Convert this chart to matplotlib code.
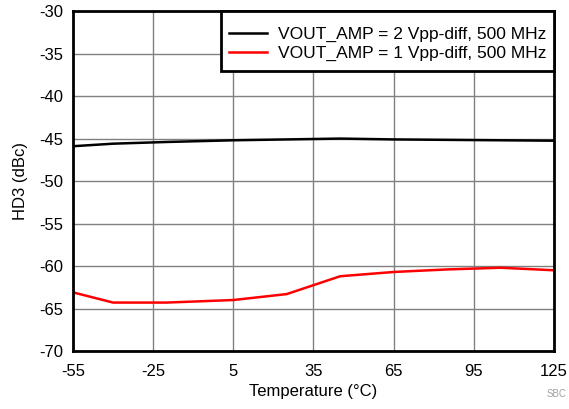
import matplotlib
matplotlib.use('Agg')
import matplotlib.pyplot as plt
from matplotlib.patches import Rectangle

plt.rcParams['font.family'] = ['Liberation Sans', 'DejaVu Sans']
plt.rcParams['axes.unicode_minus'] = False

temp = [-55, -40, -20, 5, 25, 45, 65, 85, 105, 125]
hd3_2vpp = [-45.9, -45.6, -45.4, -45.2, -45.1, -45.0, -45.1, -45.15, -45.2, -45.25]
hd3_1vpp = [-63.1, -64.3, -64.3, -64.0, -63.3, -61.2, -60.7, -60.4, -60.2, -60.5]

xticks = [-55, -25, 5, 35, 65, 95, 125]
yticks = list(range(-70, -29, 5))

fig = plt.figure(figsize=(5.69, 4.09), dpi=100)
ax = fig.add_axes([0.1283, 0.1418, 0.8453, 0.831])

ax.plot(temp, hd3_2vpp, color='black', lw=1.8, label='VOUT_AMP = 2 Vpp-diff, 500 MHz')
ax.plot(temp, hd3_1vpp, color='red', lw=1.8, label='VOUT_AMP = 1 Vpp-diff, 500 MHz')

ax.set_xlim(-55, 125)
ax.set_ylim(-70, -30)
ax.set_xticks(xticks)
ax.set_yticks(yticks)
ax.tick_params(length=0, labelsize=12)
ax.tick_params(axis='x', pad=9)
ax.tick_params(axis='y', pad=7)
ax.grid(True, color='#808080', lw=1)
for s in ax.spines.values():
    s.set_linewidth(2.0)

ax.set_xlabel('Temperature (°C)', fontsize=12, labelpad=4)
ax.set_ylabel('HD3 (dBc)', fontsize=12, labelpad=8)

# legend is taller than its text needs, so the frame is drawn by hand
ax_px = fig.get_figheight() * fig.dpi * 0.831
shift = 7.5 / ax_px
leg = ax.legend(loc='upper right', bbox_to_anchor=(1, 1 - shift), fontsize=12.5,
                frameon=False, borderaxespad=0, handlelength=2.2, handletextpad=0.6,
                borderpad=0.45, labelspacing=0.22)
leg.set_zorder(6)
fig.canvas.draw()
bb = leg.get_window_extent().transformed(ax.transAxes.inverted())
ext = 2.5 / ax_px
box = Rectangle((bb.x0, bb.y0 - ext), 1 - bb.x0, 1 - bb.y0 + ext,
                transform=ax.transAxes, facecolor='white', edgecolor='black',
                lw=2.0, zorder=5, clip_on=False)
ax.add_patch(box)

fig.text(0.995, 0.025, 'SBC', fontsize=7, color='#a0a0a0', ha='right', va='bottom')

fig.savefig('out.png', dpi=100)
